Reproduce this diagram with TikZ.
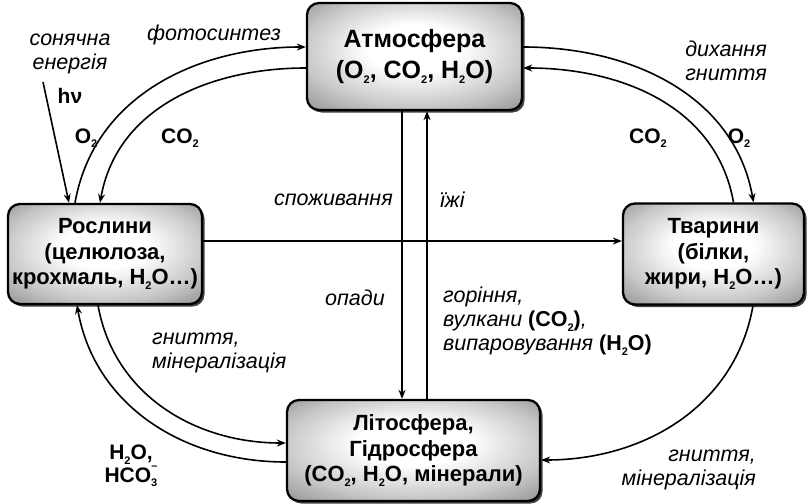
\documentclass[tikz,border=0pt]{standalone}
\usepackage{fontspec}
\setmainfont{Liberation Sans}
\usepackage{tikz}
\usetikzlibrary{arrows.meta,shadows}
\newcommand{\chembf}[1]{\textup{\bfseries #1}}
\newcommand{\chemsub}[1]{\raisebox{-0.22em}{\fontsize{11}{11}\selectfont #1}}
\newcommand{\chemsup}[1]{\raisebox{0.62em}{\fontsize{11}{11}\selectfont #1}}
\pgfdeclareradialshading{boxshade}{\pgfpoint{0bp}{5bp}}{%
  color(0bp)=(white); color(11bp)=(white); color(26bp)=(black!22);
  color(38bp)=(black!45); color(50bp)=(black!45)}

\begin{document}
\begin{tikzpicture}[
  x=1pt, y=1pt,
  every node/.style={text=black},
  sphere/.style={draw, line width=2.3pt, rounded corners=12pt,
                 shading=boxshade,
                 drop shadow={shadow xshift=2.5pt, shadow yshift=-2.5pt,
                              fill=black!75, opacity=1},
                 align=center, inner sep=0pt,
                 font=\fontsize{22}{25.5}\selectfont\bfseries},
  arrow/.style={-{Stealth[length=9pt, width=7pt]}, line width=1.6pt},
  lbl/.style={font=\fontsize{21.5}{24}\selectfont\itshape, inner sep=0pt},
  chem/.style={font=\fontsize{21}{21}\selectfont\bfseries, inner sep=0pt},
]
\useasboundingbox (0,0) rectangle (808,-503);

%% Spheres
\node[sphere, minimum width=215pt, minimum height=107pt,
      font=\fontsize{25}{31}\selectfont\bfseries] (atm) at (414.5,-56.5)
  {Атмосфера\\(O\chemsub{2}, CO\chemsub{2}, H\chemsub{2}O)};
\node[sphere, minimum width=194pt, minimum height=100pt] (plants) at (105,-254)
  {Рослини\\(целюлоза,\\крохмаль, H\chemsub{2}O…)};
\node[sphere, minimum width=181pt, minimum height=101pt] (animals) at (713.5,-254)
  {Тварини\\(білки,\\жири, H\chemsub{2}O…)};
\node[sphere, minimum width=253pt, minimum height=101pt] (litho) at (413.5,-450.5)
  {Літосфера,\\Гідросфера\\(CO\chemsub{2}, H\chemsub{2}O, мінерали)};

%% Atmosphere <-> plants
\draw[arrow] ([xshift=-30pt]plants.north) to[out=80, in=180] ([yshift=9.5pt]atm.west);
\draw[arrow] ([yshift=-11.5pt]atm.west) to[out=180, in=80] ([xshift=-5pt]plants.north);

%% Atmosphere <-> animals
\draw[arrow] ([yshift=9.5pt]atm.east) to[out=0, in=100] ([xshift=40pt]animals.north);
\draw[arrow] ([xshift=20pt]animals.north) to[out=100, in=0] ([yshift=-11.5pt]atm.east);

%% Sun
\coordinate (ray) at (43,-82);
\draw[arrow] (ray) -- ([xshift=-36pt]plants.north);

%% Plants -> animals
\draw[arrow] ([yshift=13pt]plants.east) -- ([yshift=13pt]animals.west);

%% Atmosphere <-> lithosphere
\draw[arrow] ([xshift=-12.5pt]atm.south) -- ([xshift=-11.5pt]litho.north);
\draw[arrow] ([xshift=13.5pt]litho.north) -- ([xshift=12.5pt]atm.south);

%% Plants <-> lithosphere
\draw[arrow] ([xshift=-7pt]plants.south) to[out=-80, in=180] ([yshift=7.5pt]litho.west);
\draw[arrow] ([yshift=-11.5pt]litho.west) to[out=180, in=-80] ([xshift=-28pt]plants.south);

%% Animals -> lithosphere
\draw[arrow] ([xshift=39.5pt]animals.south) to[out=-100, in=0] ([yshift=-9.5pt]litho.east);

%% Labels
\node[lbl, align=center] (sunlbl) at (70,-54) {сонячна\\енергія};
\node[chem] (hnu) at (70,-96) {hν};
\node[lbl] (photo) at (214,-35) {фотосинтез};
\node[chem] (o2l) at (86,-138) {O\chemsub{2}};
\node[chem] (co2l) at (180,-138) {CO\chemsub{2}};
\node[lbl, align=right, anchor=east] (resp) at (767,-61) {дихання\\гниття};
\node[chem] (co2r) at (648,-138) {CO\chemsub{2}};
\node[chem] (o2r) at (739,-138) {O\chemsub{2}};
\node[lbl, anchor=east] (cons) at (393,-200) {споживання};
\node[lbl, anchor=west] (food) at (440,-200) {їжі};
\node[lbl, anchor=east] (fall) at (385,-298) {опади};
\node[lbl, align=left, anchor=north west] (burn) at (443,-287)
  {горіння,\\вулкани \chembf{(CO\chemsub{2})},\\випаровування \chembf{(H\chemsub{2}O)}};
\node[lbl, align=left, anchor=west] (decl) at (152,-353) {гниття,\\мінералізація};
\node[chem, align=center] (ions) at (131,-466)
  {H\chemsub{2}O,\\HCO\chemsub{3}\kern-6pt\chemsup{–}};
\node[lbl, align=right, anchor=east] (decr) at (756,-470) {гниття,\\мінералізація};

\end{tikzpicture}
\end{document}
